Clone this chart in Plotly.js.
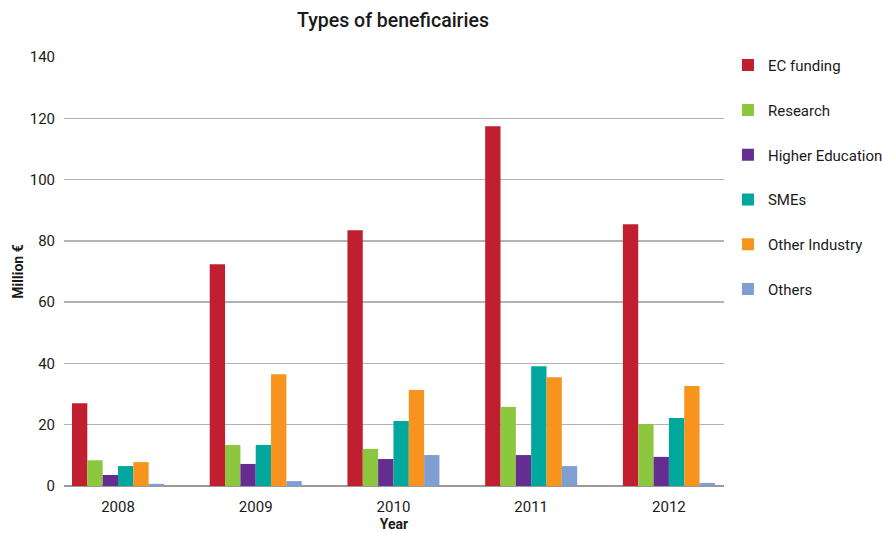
<!DOCTYPE html>
<html><head><meta charset="utf-8">
<script src="https://cdn.plot.ly/plotly-3.0.1.min.js"></script>
<style>html,body{margin:0;padding:0;background:#fff}#chart{width:882px;height:533px}</style>
</head><body><div id="chart"></div>
<script>
const years = ["2008","2009","2010","2011","2012"];
const seriesNames = ["EC funding","Research","Higher Education","SMEs","Other Industry","Others"];
const ecFunding = [27.0, 72.4, 83.5, 117.4, 85.4];
const research = [8.4, 13.4, 12.1, 25.8, 20.2];
const higherEducation = [3.6, 7.2, 8.8, 10.1, 9.5];
const smes = [6.5, 13.4, 21.2, 39.1, 22.2];
const otherIndustry = [7.8, 36.5, 31.3, 35.5, 32.6];
const others = [0.7, 1.6, 10.1, 6.5, 1.0];
const colors = ["#C01F2F","#8DC63F","#662D91","#00A79D","#F7941D","#7F9FD3"];
const values = [ecFunding, research, higherEducation, smes, otherIndustry, others];

const font = "Roboto, 'Open Sans', sans-serif";
const traces = values.map((v,i)=>({
  type:"bar", x:years, y:v, name:seriesNames[i], legendgroup:"g"+i,
  marker:{color:colors[i], line:{width:0}}, hoverinfo:"y"
}));
const layout = {
  width:882, height:533,
  margin:{l:64, r:158, t:57, b:47, autoexpand:false},
  paper_bgcolor:"#fff", plot_bgcolor:"#fff",
  font:{family:font, size:14, color:"#1a1a1a"},
  title:{text:"Types of beneficairies", x:0.4456, xanchor:"center", y:0.962, yanchor:"middle",
         font:{family:font, size:19.5, color:"#1a1a1a", weight:500}},
  barmode:"group", bargap:0.332, bargroupgap:0,
  xaxis:{type:"category", range:[-0.392, 4.40], showgrid:false, zeroline:false, automargin:false,
         showline:false, ticks:"", tickfont:{size:15}, ticklabelstandoff:10,
         title:{text:"<b>Year</b>", font:{size:14}, standoff:2}},
  yaxis:{range:[0,140], dtick:20, showgrid:true, gridcolor:"#b3b3b3", gridwidth:1.3, automargin:false,
         zeroline:true, zerolinecolor:"#999", zerolinewidth:1.3, showline:false, ticks:"",
         tickfont:{size:15}, ticklabelstandoff:8,
         title:{text:"<b>Million €</b>", font:{size:14}, standoff:2}},
  legend:{x:1.006, xanchor:"left", y:1.019, yanchor:"top", traceorder:"grouped",
          tracegroupgap:22.3, font:{size:15}, itemwidth:30, bgcolor:"rgba(0,0,0,0)"},
  showlegend:true
};
Plotly.newPlot("chart", traces, layout, {displayModeBar:false, staticPlot:true});
</script></body></html>
